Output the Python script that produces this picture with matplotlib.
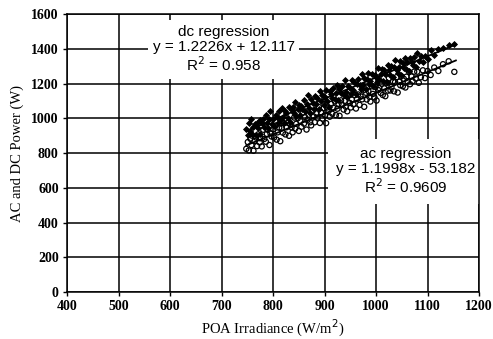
import matplotlib
matplotlib.use("Agg")
import matplotlib.pyplot as plt
import numpy as np

# POA irradiance (W/m^2) of each observation
irradiance = [
    748, 751, 753, 756, 758, 759, 762, 764, 767, 769,
    771, 774, 775, 778, 781, 783, 786, 788, 790, 793,
    795, 797, 800, 802, 805, 807, 809, 812, 814, 817,
    819, 821, 824, 826, 829, 831, 833, 836, 838, 841,
    843, 845, 848, 850, 853, 855, 857, 860, 862, 865,
    867, 869, 872, 874, 877, 879, 881, 884, 886, 889,
    891, 893, 896, 898, 901, 903, 905, 908, 910, 913,
    915, 917, 920, 922, 925, 927, 929, 932, 934, 937,
    939, 941, 944, 946, 949, 951, 953, 956, 958, 961,
    963, 965, 968, 970, 973, 975, 977, 980, 982, 985,
    987, 989, 992, 994, 997, 999, 1001, 1004, 1006, 1009,
    1011, 1013, 1016, 1018, 1021, 1023, 1025, 1028, 1030, 1033,
    1035, 1037, 1040, 1042, 1045, 1047, 1049, 1052, 1054, 1057,
    1059, 1061, 1064, 1066, 1069, 1071, 1074, 1077, 1080, 1083,
    1087, 1091, 1095, 1100, 1106, 1113, 1121, 1130, 1141, 1152]

# DC power (W)
dc_power = [
    939, 905, 973, 928, 994, 910, 949, 968, 905, 970,
    943, 991, 910, 971, 994, 949, 1018, 971, 943, 997,
    1044, 969, 993, 953, 1021, 1009, 973, 1043, 992, 1061,
    1010, 974, 1040, 1029, 1004, 1063, 976, 1048, 1067, 1030,
    1091, 1012, 1051, 1075, 1017, 1073, 1054, 1106, 1040, 1081,
    1134, 1058, 1030, 1110, 1088, 1056, 1126, 1084, 1114, 1055,
    1154, 1102, 1134, 1074, 1123, 1160, 1098, 1065, 1156, 1141,
    1117, 1172, 1108, 1145, 1190, 1104, 1169, 1145, 1188, 1134,
    1218, 1152, 1120, 1186, 1173, 1141, 1218, 1162, 1211, 1137,
    1199, 1228, 1192, 1171, 1254, 1191, 1230, 1171, 1228, 1262,
    1196, 1213, 1257, 1184, 1251, 1237, 1206, 1289, 1226, 1254,
    1286, 1216, 1279, 1256, 1208, 1306, 1277, 1249, 1301, 1238,
    1296, 1336, 1275, 1258, 1297, 1327, 1250, 1320, 1289, 1344,
    1282, 1323, 1273, 1348, 1324, 1304, 1352, 1296, 1377, 1330,
    1361, 1324, 1361, 1342, 1394, 1363, 1398, 1402, 1419, 1426]

# AC power (W)
ac_power = [
    824, 863, 815, 882, 846, 900, 813, 869, 889, 840,
    907, 861, 885, 838, 934, 881, 865, 910, 933, 846,
    913, 895, 937, 889, 958, 877, 919, 946, 868, 943,
    917, 972, 907, 948, 974, 899, 966, 947, 919, 1004,
    940, 968, 1000, 927, 983, 951, 1030, 969, 1007, 935,
    991, 1020, 977, 959, 1043, 1010, 977, 1028, 1004, 1065,
    973, 1035, 998, 1058, 1016, 972, 1062, 1042, 1009, 1083,
    1026, 1061, 1097, 1018, 1055, 1082, 1014, 1103, 1078, 1050,
    1100, 1067, 1040, 1132, 1088, 1062, 1109, 1080, 1133, 1056,
    1110, 1137, 1077, 1126, 1109, 1160, 1066, 1147, 1108, 1157,
    1123, 1096, 1184, 1140, 1120, 1180, 1102, 1163, 1174, 1146,
    1199, 1134, 1172, 1127, 1202, 1159, 1230, 1160, 1180, 1212,
    1155, 1209, 1237, 1148, 1210, 1190, 1241, 1184, 1227, 1177,
    1239, 1213, 1267, 1196, 1240, 1214, 1268, 1229, 1268, 1204,
    1236, 1276, 1231, 1272, 1249, 1292, 1272, 1311, 1328, 1267]

# regression coefficients (as printed on the chart)
dc_slope, dc_intercept, dc_r2 = 1.2226, 12.117, 0.958
ac_slope, ac_intercept, ac_r2 = 1.1998, -53.182, 0.9609

x_ticks = [400, 500, 600, 700, 800, 900, 1000, 1100, 1200]
y_ticks = [0, 200, 400, 600, 800, 1000, 1200, 1400, 1600]

fig = plt.figure(figsize=(4.93, 3.39), dpi=100)
ax = fig.add_axes([0.136, 0.1386, 0.8357, 0.8201])

ax.set_xlim(400, 1200)
ax.set_ylim(0, 1600)
ax.set_xticks(x_ticks)
ax.set_yticks(y_ticks)
ax.grid(True, color="black", linewidth=1.1, zorder=0)
ax.set_axisbelow(True)
for s in ax.spines.values():
    s.set_color("black")
    s.set_linewidth(1.1)
    s.set_zorder(6)
ax.tick_params(direction="out", length=3, width=1, colors="black", pad=3)
for lab in ax.get_xticklabels() + ax.get_yticklabels():
    lab.set_fontfamily("Liberation Serif")
    lab.set_fontweight("bold")
    lab.set_fontsize(10)

x = np.array(irradiance)
ax.scatter(x, dc_power, marker="D", s=9, color="black", linewidths=0.6, zorder=3)
ax.scatter(x, ac_power, marker="o", s=14, facecolors="none", edgecolors="black",
           linewidths=0.9, zorder=3)

xl = np.array([min(irradiance), max(irradiance) + 3])
ax.plot(xl, dc_slope * xl + dc_intercept, color="black", linewidth=1.3, zorder=4)
ax.plot(xl, ac_slope * xl + ac_intercept, color="black", linewidth=1.3, zorder=4)

ax.set_xlabel("POA Irradiance (W/m$^{2}$)", fontfamily="Liberation Serif",
              fontsize=10.5, labelpad=3)
ax.set_ylabel("AC and DC Power (W)", fontfamily="Liberation Serif",
              fontsize=10.5, labelpad=5)

dc_txt = "dc regression\ny = %.4fx + %.3f\nR$^{2}$ = %s" % (dc_slope, dc_intercept, dc_r2)
ac_txt = "ac regression\ny = %.4fx - %.3f\nR$^{2}$ = %s" % (ac_slope, -ac_intercept, ac_r2)
ax.text(0.38, 0.872, dc_txt, transform=ax.transAxes, ha="center", va="center",
        fontfamily="Liberation Sans", fontsize=11, linespacing=1.1, zorder=5,
        bbox=dict(boxstyle="square,pad=0.3", fc="white", ec="none"))
ax.text(0.822, 0.433, ac_txt, transform=ax.transAxes, ha="center", va="center",
        fontfamily="Liberation Sans", fontsize=11, linespacing=1.1, zorder=5,
        bbox=dict(boxstyle="square,pad=0.5", fc="white", ec="none"))

fig.savefig("out.png", dpi=100)
